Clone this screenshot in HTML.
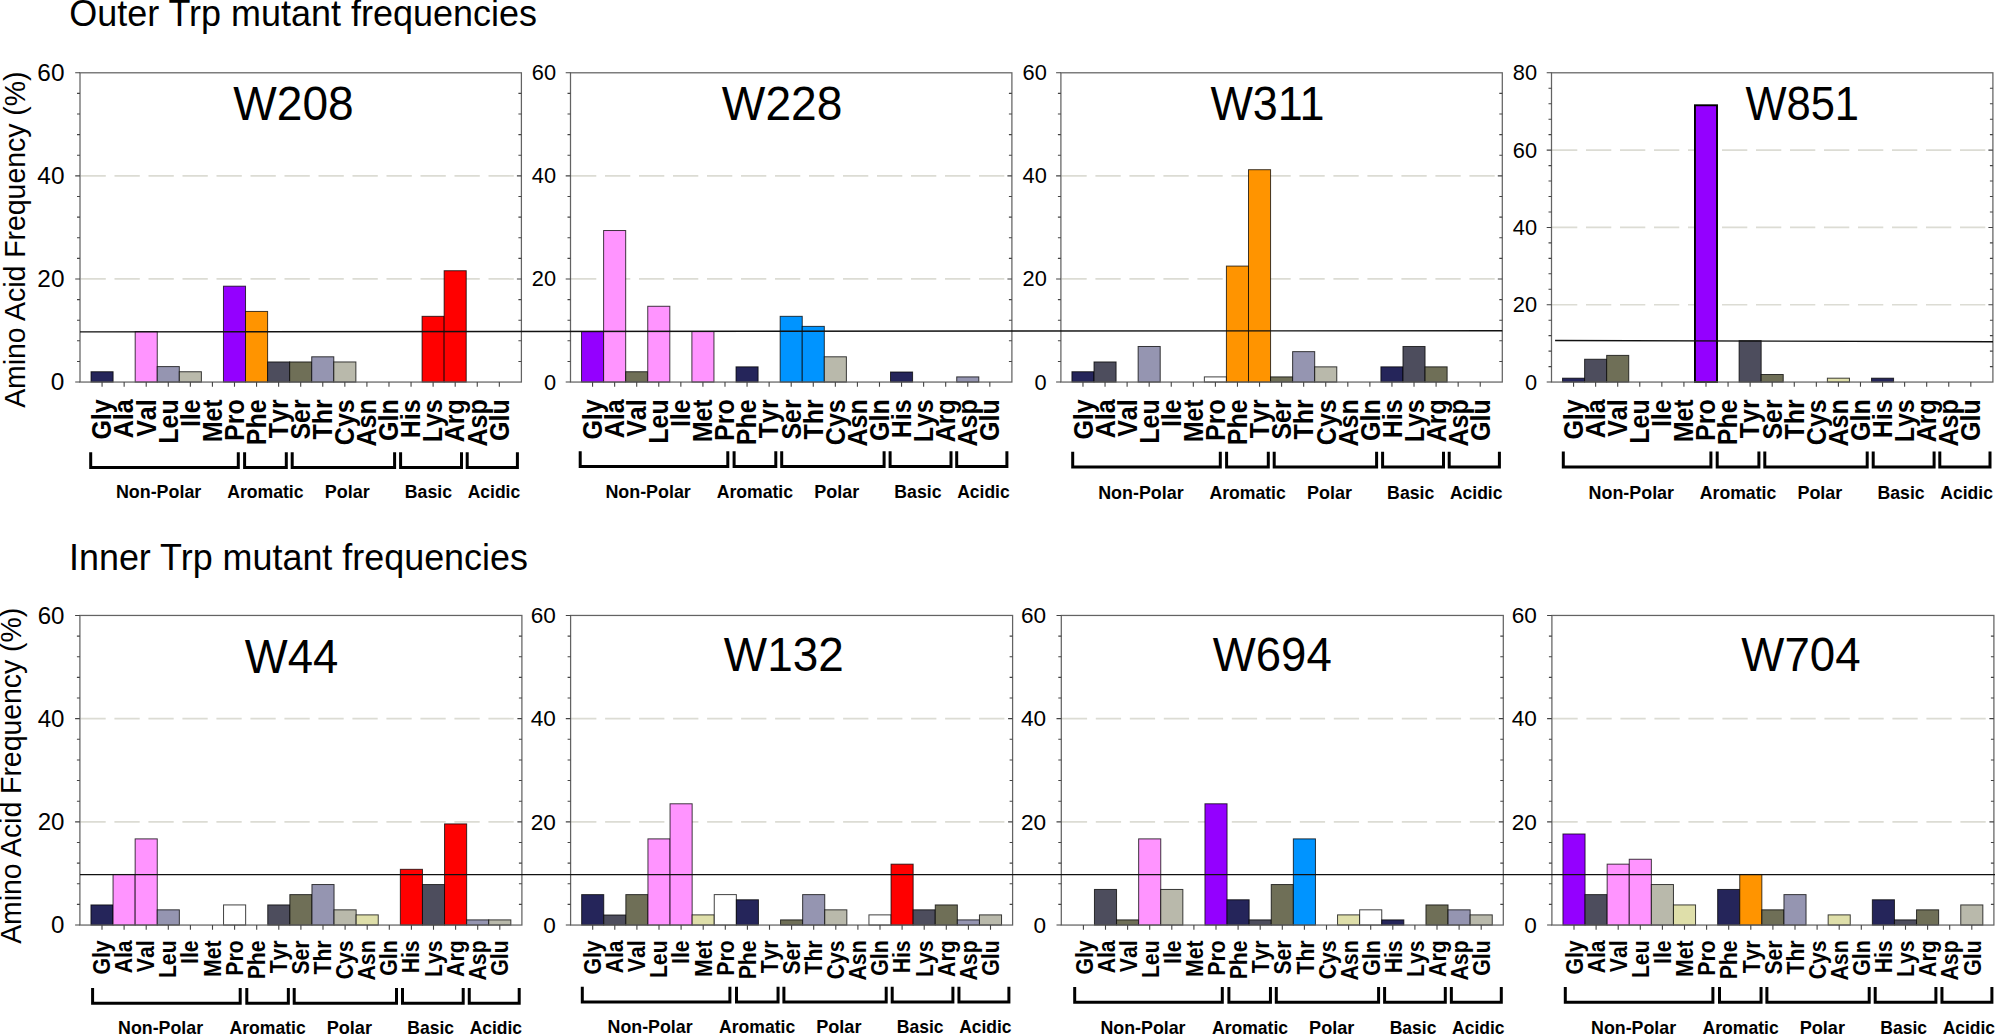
<!DOCTYPE html>
<html lang="en"><head><meta charset="utf-8"><title>Trp mutant frequencies</title>
<style>html,body{margin:0;padding:0;background:#fff}svg{display:block}text{font-family:"Liberation Sans",Arial,Helvetica,sans-serif;fill:#000}</style></head><body>
<svg width="1995" height="1035" viewBox="0 0 1995 1035">
<rect width="1995" height="1035" fill="#fff"/>
<text transform="translate(69.14,26.07) scale(1,1.015)" font-size="35.98">Outer Trp mutant frequencies</text>
<text transform="translate(68.98,570.3) scale(1,1.053)" font-size="35.91">Inner Trp mutant frequencies</text>
<text transform="translate(25,407.87) rotate(-90) scale(1,1.044)" font-size="28.43">Amino Acid Frequency (%)</text>
<text transform="translate(21,943.82) rotate(-90) scale(1,1.034)" font-size="28.41">Amino Acid Frequency (%)</text>
<line x1="80.5" y1="278.97" x2="520.9" y2="278.97" stroke="#dcdcd4" stroke-width="1.7" stroke-dasharray="25.3 8.7"/>
<line x1="80.5" y1="175.88" x2="520.9" y2="175.88" stroke="#dcdcd4" stroke-width="1.7" stroke-dasharray="25.3 8.7"/>
<rect x="91.03" y="371.74" width="22.07" height="10.31" fill="#25255a" stroke="#000" stroke-opacity="0.75" stroke-width="1.0"/>
<rect x="135.18" y="331.54" width="22.07" height="50.51" fill="#ff94ff" stroke="#000" stroke-opacity="0.75" stroke-width="1.0"/>
<rect x="157.25" y="366.59" width="22.07" height="15.46" fill="#9595b1" stroke="#000" stroke-opacity="0.75" stroke-width="1.0"/>
<rect x="179.31" y="371.74" width="22.07" height="10.31" fill="#b9b9ab" stroke="#000" stroke-opacity="0.75" stroke-width="1.0"/>
<rect x="223.46" y="286.18" width="22.07" height="95.87" fill="#9400ff" stroke="#000" stroke-opacity="0.75" stroke-width="1.0"/>
<rect x="245.53" y="311.44" width="22.07" height="70.61" fill="#ff9400" stroke="#000" stroke-opacity="0.75" stroke-width="1.0"/>
<rect x="267.59" y="361.95" width="22.07" height="20.1" fill="#4d4d5d" stroke="#000" stroke-opacity="0.75" stroke-width="1.0"/>
<rect x="289.66" y="361.95" width="22.07" height="20.1" fill="#6f6f57" stroke="#000" stroke-opacity="0.75" stroke-width="1.0"/>
<rect x="311.73" y="356.79" width="22.07" height="25.26" fill="#9595b1" stroke="#000" stroke-opacity="0.75" stroke-width="1.0"/>
<rect x="333.81" y="361.95" width="22.07" height="20.1" fill="#b9b9ab" stroke="#000" stroke-opacity="0.75" stroke-width="1.0"/>
<rect x="422.08" y="316.33" width="22.07" height="65.72" fill="#ff0000" stroke="#000" stroke-opacity="0.75" stroke-width="1.0"/>
<rect x="444.15" y="270.72" width="22.07" height="111.33" fill="#ff0000" stroke="#000" stroke-opacity="0.75" stroke-width="1.0"/>
<rect x="80" y="72.8" width="441.4" height="309.25" fill="none" stroke="#636363" stroke-width="1.25"/>
<path d="M75.2 382.05H80M77 361.43H80M518.4 361.43H521.4M77 340.82H80M518.4 340.82H521.4M77 320.2H80M518.4 320.2H521.4M77 299.58H80M518.4 299.58H521.4M75.2 278.97H80M516.9 278.97H521.4M77 258.35H80M518.4 258.35H521.4M77 237.73H80M518.4 237.73H521.4M77 217.12H80M518.4 217.12H521.4M77 196.5H80M518.4 196.5H521.4M75.2 175.88H80M516.9 175.88H521.4M77 155.27H80M518.4 155.27H521.4M77 134.65H80M518.4 134.65H521.4M77 114.03H80M518.4 114.03H521.4M77 93.42H80M518.4 93.42H521.4M75.2 72.8H80M102.07 382.05V386.85M124.14 382.05V386.85M146.21 382.05V386.85M168.28 382.05V386.85M190.35 382.05V386.85M212.42 382.05V386.85M234.49 382.05V386.85M256.56 382.05V386.85M278.63 382.05V386.85M300.7 382.05V386.85M322.77 382.05V386.85M344.84 382.05V386.85M366.91 382.05V386.85M388.98 382.05V386.85M411.05 382.05V386.85M433.12 382.05V386.85M455.19 382.05V386.85M477.26 382.05V386.85M499.33 382.05V386.85" stroke="#444" stroke-width="1.1" fill="none"/>
<g font-size="24.4" text-anchor="end">
<text x="64.44" y="390.44">0</text>
<text x="64.47" y="287.36">20</text>
<text x="64.47" y="184.28">40</text>
<text x="64.47" y="81.19">60</text>
</g>
<text transform="translate(233.27,119.6) scale(1,1.054)" font-size="46.09">W208</text>
<g font-weight="bold" font-size="25" text-anchor="end" style="font-kerning:none">
<text transform="translate(111.37,399.3) rotate(-90) scale(1,1.082)">Gly</text>
<text transform="translate(133.44,399.3) rotate(-90) scale(1,1.082)">Ala</text>
<text transform="translate(155.51,399.3) rotate(-90) scale(1,1.082)">Val</text>
<text transform="translate(177.58,399.3) rotate(-90) scale(1,1.082)">Leu</text>
<text transform="translate(199.65,399.3) rotate(-90) scale(1,1.082)">Ile</text>
<text transform="translate(221.72,399.3) rotate(-90) scale(1,1.082)">Met</text>
<text transform="translate(243.79,399.3) rotate(-90) scale(1,1.082)">Pro</text>
<text transform="translate(265.86,399.3) rotate(-90) scale(1,1.082)">Phe</text>
<text transform="translate(287.93,399.3) rotate(-90) scale(1,1.082)">Tyr</text>
<text transform="translate(310,399.3) rotate(-90) scale(1,1.082)">Ser</text>
<text transform="translate(332.07,399.3) rotate(-90) scale(1,1.082)">Thr</text>
<text transform="translate(354.14,399.3) rotate(-90) scale(1,1.082)">Cys</text>
<text transform="translate(376.21,399.3) rotate(-90) scale(1,1.082)">Asn</text>
<text transform="translate(398.28,399.3) rotate(-90) scale(1,1.082)">Gln</text>
<text transform="translate(420.35,399.3) rotate(-90) scale(1,1.082)">His</text>
<text transform="translate(442.42,399.3) rotate(-90) scale(1,1.082)">Lys</text>
<text transform="translate(464.49,399.3) rotate(-90) scale(1,1.082)">Arg</text>
<text transform="translate(486.56,399.3) rotate(-90) scale(1,1.082)">Asp</text>
<text transform="translate(508.63,399.3) rotate(-90) scale(1,1.082)">Glu</text>
</g>
<path d="M90.7 452.2V467.5H238.3V452.2M244.6 452.2V467.5H286.3V452.2M292.2 452.2V467.5H394.6V452.2M400.6 452.2V467.5H461.5V452.2M467.2 452.2V467.5H517.4V452.2" stroke="#000" stroke-width="3.0" fill="none" stroke-linejoin="miter"/>
<g font-weight="bold">
<text transform="translate(115.89,498.1) scale(1,0.975)" font-size="17.9">Non-Polar</text>
<text transform="translate(227.16,498.1) scale(1,0.991)" font-size="17.62">Aromatic</text>
<text transform="translate(324.69,498.1) scale(1,0.971)" font-size="17.98">Polar</text>
<text transform="translate(404.81,498.1) scale(1,0.987)" font-size="17.69">Basic</text>
<text transform="translate(467.66,498.1) scale(1,0.997)" font-size="17.51">Acidic</text>
</g>
<line x1="571" y1="278.97" x2="1011.4" y2="278.97" stroke="#dcdcd4" stroke-width="1.7" stroke-dasharray="25.3 8.7"/>
<line x1="571" y1="175.88" x2="1011.4" y2="175.88" stroke="#dcdcd4" stroke-width="1.7" stroke-dasharray="25.3 8.7"/>
<rect x="581.54" y="331.54" width="22.07" height="50.51" fill="#9400ff" stroke="#000" stroke-opacity="0.75" stroke-width="1.0"/>
<rect x="603.61" y="230.52" width="22.07" height="151.53" fill="#ff94ff" stroke="#000" stroke-opacity="0.75" stroke-width="1.0"/>
<rect x="625.68" y="371.74" width="22.07" height="10.31" fill="#6f6f57" stroke="#000" stroke-opacity="0.75" stroke-width="1.0"/>
<rect x="647.75" y="306.28" width="22.07" height="75.77" fill="#ff94ff" stroke="#000" stroke-opacity="0.75" stroke-width="1.0"/>
<rect x="691.89" y="331.54" width="22.07" height="50.51" fill="#ff94ff" stroke="#000" stroke-opacity="0.75" stroke-width="1.0"/>
<rect x="736.02" y="366.85" width="22.07" height="15.2" fill="#25255a" stroke="#000" stroke-opacity="0.75" stroke-width="1.0"/>
<rect x="780.17" y="316.33" width="22.07" height="65.72" fill="#0094ff" stroke="#000" stroke-opacity="0.75" stroke-width="1.0"/>
<rect x="802.24" y="326.38" width="22.07" height="55.67" fill="#0094ff" stroke="#000" stroke-opacity="0.75" stroke-width="1.0"/>
<rect x="824.31" y="356.79" width="22.07" height="25.26" fill="#b9b9ab" stroke="#000" stroke-opacity="0.75" stroke-width="1.0"/>
<rect x="890.51" y="372" width="22.07" height="10.05" fill="#25255a" stroke="#000" stroke-opacity="0.75" stroke-width="1.0"/>
<rect x="956.73" y="376.9" width="22.07" height="5.15" fill="#9595b1" stroke="#000" stroke-opacity="0.75" stroke-width="1.0"/>
<rect x="570.5" y="72.8" width="441.4" height="309.25" fill="none" stroke="#636363" stroke-width="1.25"/>
<path d="M565.7 382.05H570.5M567.5 361.43H570.5M1008.9 361.43H1011.9M567.5 340.82H570.5M1008.9 340.82H1011.9M567.5 320.2H570.5M1008.9 320.2H1011.9M567.5 299.58H570.5M1008.9 299.58H1011.9M565.7 278.97H570.5M1007.4 278.97H1011.9M567.5 258.35H570.5M1008.9 258.35H1011.9M567.5 237.73H570.5M1008.9 237.73H1011.9M567.5 217.12H570.5M1008.9 217.12H1011.9M567.5 196.5H570.5M1008.9 196.5H1011.9M565.7 175.88H570.5M1007.4 175.88H1011.9M567.5 155.27H570.5M1008.9 155.27H1011.9M567.5 134.65H570.5M1008.9 134.65H1011.9M567.5 114.03H570.5M1008.9 114.03H1011.9M567.5 93.42H570.5M1008.9 93.42H1011.9M565.7 72.8H570.5M592.57 382.05V386.85M614.64 382.05V386.85M636.71 382.05V386.85M658.78 382.05V386.85M680.85 382.05V386.85M702.92 382.05V386.85M724.99 382.05V386.85M747.06 382.05V386.85M769.13 382.05V386.85M791.2 382.05V386.85M813.27 382.05V386.85M835.34 382.05V386.85M857.41 382.05V386.85M879.48 382.05V386.85M901.55 382.05V386.85M923.62 382.05V386.85M945.69 382.05V386.85M967.76 382.05V386.85M989.83 382.05V386.85" stroke="#444" stroke-width="1.1" fill="none"/>
<g font-size="21.8" text-anchor="end">
<text x="556.04" y="389.55">0</text>
<text x="556.07" y="286.47">20</text>
<text x="556.07" y="183.38">40</text>
<text x="556.07" y="80.3">60</text>
</g>
<text transform="translate(721.83,119.6) scale(1,1.051)" font-size="46.16">W228</text>
<g font-weight="bold" font-size="25" text-anchor="end" style="font-kerning:none">
<text transform="translate(601.87,399.3) rotate(-90) scale(1,1.082)">Gly</text>
<text transform="translate(623.94,399.3) rotate(-90) scale(1,1.082)">Ala</text>
<text transform="translate(646.01,399.3) rotate(-90) scale(1,1.082)">Val</text>
<text transform="translate(668.08,399.3) rotate(-90) scale(1,1.082)">Leu</text>
<text transform="translate(690.15,399.3) rotate(-90) scale(1,1.082)">Ile</text>
<text transform="translate(712.22,399.3) rotate(-90) scale(1,1.082)">Met</text>
<text transform="translate(734.29,399.3) rotate(-90) scale(1,1.082)">Pro</text>
<text transform="translate(756.36,399.3) rotate(-90) scale(1,1.082)">Phe</text>
<text transform="translate(778.43,399.3) rotate(-90) scale(1,1.082)">Tyr</text>
<text transform="translate(800.5,399.3) rotate(-90) scale(1,1.082)">Ser</text>
<text transform="translate(822.57,399.3) rotate(-90) scale(1,1.082)">Thr</text>
<text transform="translate(844.64,399.3) rotate(-90) scale(1,1.082)">Cys</text>
<text transform="translate(866.71,399.3) rotate(-90) scale(1,1.082)">Asn</text>
<text transform="translate(888.78,399.3) rotate(-90) scale(1,1.082)">Gln</text>
<text transform="translate(910.85,399.3) rotate(-90) scale(1,1.082)">His</text>
<text transform="translate(932.92,399.3) rotate(-90) scale(1,1.082)">Lys</text>
<text transform="translate(954.99,399.3) rotate(-90) scale(1,1.082)">Arg</text>
<text transform="translate(977.06,399.3) rotate(-90) scale(1,1.082)">Asp</text>
<text transform="translate(999.13,399.3) rotate(-90) scale(1,1.082)">Glu</text>
</g>
<path d="M580.2 451.3V466.6H727.8V451.3M734.1 451.3V466.6H775.8V451.3M781.7 451.3V466.6H884.1V451.3M890.1 451.3V466.6H951V451.3M956.7 451.3V466.6H1006.9V451.3" stroke="#000" stroke-width="3.0" fill="none" stroke-linejoin="miter"/>
<g font-weight="bold">
<text transform="translate(605.39,497.5) scale(1,0.975)" font-size="17.9">Non-Polar</text>
<text transform="translate(716.66,497.5) scale(1,0.991)" font-size="17.62">Aromatic</text>
<text transform="translate(814.19,497.5) scale(1,0.971)" font-size="17.98">Polar</text>
<text transform="translate(894.31,497.5) scale(1,0.987)" font-size="17.69">Basic</text>
<text transform="translate(957.16,497.5) scale(1,0.997)" font-size="17.51">Acidic</text>
</g>
<line x1="1061.4" y1="278.97" x2="1501.8" y2="278.97" stroke="#dcdcd4" stroke-width="1.7" stroke-dasharray="25.3 8.7"/>
<line x1="1061.4" y1="175.88" x2="1501.8" y2="175.88" stroke="#dcdcd4" stroke-width="1.7" stroke-dasharray="25.3 8.7"/>
<rect x="1071.93" y="371.74" width="22.07" height="10.31" fill="#25255a" stroke="#000" stroke-opacity="0.75" stroke-width="1.0"/>
<rect x="1094.01" y="361.95" width="22.07" height="20.1" fill="#4d4d5d" stroke="#000" stroke-opacity="0.75" stroke-width="1.0"/>
<rect x="1138.14" y="346.49" width="22.07" height="35.56" fill="#9595b1" stroke="#000" stroke-opacity="0.75" stroke-width="1.0"/>
<rect x="1204.36" y="376.9" width="22.07" height="5.15" fill="#ffffff" stroke="#000" stroke-opacity="0.75" stroke-width="1.0"/>
<rect x="1226.42" y="266.08" width="22.07" height="115.97" fill="#ff9400" stroke="#000" stroke-opacity="0.75" stroke-width="1.0"/>
<rect x="1248.5" y="169.7" width="22.07" height="212.35" fill="#ff9400" stroke="#000" stroke-opacity="0.75" stroke-width="1.0"/>
<rect x="1270.57" y="376.9" width="22.07" height="5.15" fill="#6f6f57" stroke="#000" stroke-opacity="0.75" stroke-width="1.0"/>
<rect x="1292.63" y="351.64" width="22.07" height="30.41" fill="#9595b1" stroke="#000" stroke-opacity="0.75" stroke-width="1.0"/>
<rect x="1314.71" y="366.85" width="22.07" height="15.2" fill="#b9b9ab" stroke="#000" stroke-opacity="0.75" stroke-width="1.0"/>
<rect x="1380.91" y="366.85" width="22.07" height="15.2" fill="#25255a" stroke="#000" stroke-opacity="0.75" stroke-width="1.0"/>
<rect x="1402.98" y="346.49" width="22.07" height="35.56" fill="#4d4d5d" stroke="#000" stroke-opacity="0.75" stroke-width="1.0"/>
<rect x="1425.06" y="366.85" width="22.07" height="15.2" fill="#6f6f57" stroke="#000" stroke-opacity="0.75" stroke-width="1.0"/>
<rect x="1060.9" y="72.8" width="441.4" height="309.25" fill="none" stroke="#636363" stroke-width="1.25"/>
<path d="M1056.1 382.05H1060.9M1057.9 361.43H1060.9M1499.3 361.43H1502.3M1057.9 340.82H1060.9M1499.3 340.82H1502.3M1057.9 320.2H1060.9M1499.3 320.2H1502.3M1057.9 299.58H1060.9M1499.3 299.58H1502.3M1056.1 278.97H1060.9M1497.8 278.97H1502.3M1057.9 258.35H1060.9M1499.3 258.35H1502.3M1057.9 237.73H1060.9M1499.3 237.73H1502.3M1057.9 217.12H1060.9M1499.3 217.12H1502.3M1057.9 196.5H1060.9M1499.3 196.5H1502.3M1056.1 175.88H1060.9M1497.8 175.88H1502.3M1057.9 155.27H1060.9M1499.3 155.27H1502.3M1057.9 134.65H1060.9M1499.3 134.65H1502.3M1057.9 114.03H1060.9M1499.3 114.03H1502.3M1057.9 93.42H1060.9M1499.3 93.42H1502.3M1056.1 72.8H1060.9M1082.97 382.05V386.85M1105.04 382.05V386.85M1127.11 382.05V386.85M1149.18 382.05V386.85M1171.25 382.05V386.85M1193.32 382.05V386.85M1215.39 382.05V386.85M1237.46 382.05V386.85M1259.53 382.05V386.85M1281.6 382.05V386.85M1303.67 382.05V386.85M1325.74 382.05V386.85M1347.81 382.05V386.85M1369.88 382.05V386.85M1391.95 382.05V386.85M1414.02 382.05V386.85M1436.09 382.05V386.85M1458.16 382.05V386.85M1480.23 382.05V386.85" stroke="#444" stroke-width="1.1" fill="none"/>
<g font-size="21.8" text-anchor="end">
<text x="1046.74" y="389.55">0</text>
<text x="1046.77" y="286.47">20</text>
<text x="1046.77" y="183.38">40</text>
<text x="1046.77" y="80.3">60</text>
</g>
<text transform="translate(1210.38,119.6) scale(1,1.079)" font-size="44.99">W311</text>
<g font-weight="bold" font-size="25" text-anchor="end" style="font-kerning:none">
<text transform="translate(1092.77,399.3) rotate(-90) scale(1,1.082)">Gly</text>
<text transform="translate(1114.84,399.3) rotate(-90) scale(1,1.082)">Ala</text>
<text transform="translate(1136.91,399.3) rotate(-90) scale(1,1.082)">Val</text>
<text transform="translate(1158.98,399.3) rotate(-90) scale(1,1.082)">Leu</text>
<text transform="translate(1181.05,399.3) rotate(-90) scale(1,1.082)">Ile</text>
<text transform="translate(1203.12,399.3) rotate(-90) scale(1,1.082)">Met</text>
<text transform="translate(1225.19,399.3) rotate(-90) scale(1,1.082)">Pro</text>
<text transform="translate(1247.26,399.3) rotate(-90) scale(1,1.082)">Phe</text>
<text transform="translate(1269.33,399.3) rotate(-90) scale(1,1.082)">Tyr</text>
<text transform="translate(1291.4,399.3) rotate(-90) scale(1,1.082)">Ser</text>
<text transform="translate(1313.47,399.3) rotate(-90) scale(1,1.082)">Thr</text>
<text transform="translate(1335.54,399.3) rotate(-90) scale(1,1.082)">Cys</text>
<text transform="translate(1357.61,399.3) rotate(-90) scale(1,1.082)">Asn</text>
<text transform="translate(1379.68,399.3) rotate(-90) scale(1,1.082)">Gln</text>
<text transform="translate(1401.75,399.3) rotate(-90) scale(1,1.082)">His</text>
<text transform="translate(1423.82,399.3) rotate(-90) scale(1,1.082)">Lys</text>
<text transform="translate(1445.89,399.3) rotate(-90) scale(1,1.082)">Arg</text>
<text transform="translate(1467.96,399.3) rotate(-90) scale(1,1.082)">Asp</text>
<text transform="translate(1490.03,399.3) rotate(-90) scale(1,1.082)">Glu</text>
</g>
<path d="M1072.7 451.7V467H1220.3V451.7M1226.6 451.7V467H1268.3V451.7M1274.2 451.7V467H1376.6V451.7M1382.6 451.7V467H1443.5V451.7M1449.2 451.7V467H1499.4V451.7" stroke="#000" stroke-width="3.0" fill="none" stroke-linejoin="miter"/>
<g font-weight="bold">
<text transform="translate(1098.19,498.6) scale(1,0.975)" font-size="17.9">Non-Polar</text>
<text transform="translate(1209.46,498.6) scale(1,0.991)" font-size="17.62">Aromatic</text>
<text transform="translate(1306.99,498.6) scale(1,0.971)" font-size="17.98">Polar</text>
<text transform="translate(1387.11,498.6) scale(1,0.987)" font-size="17.69">Basic</text>
<text transform="translate(1449.96,498.6) scale(1,0.997)" font-size="17.51">Acidic</text>
</g>
<line x1="1552" y1="304.74" x2="1992.4" y2="304.74" stroke="#dcdcd4" stroke-width="1.7" stroke-dasharray="25.3 8.7"/>
<line x1="1552" y1="227.43" x2="1992.4" y2="227.43" stroke="#dcdcd4" stroke-width="1.7" stroke-dasharray="25.3 8.7"/>
<line x1="1552" y1="150.11" x2="1992.4" y2="150.11" stroke="#dcdcd4" stroke-width="1.7" stroke-dasharray="25.3 8.7"/>
<rect x="1562.53" y="378.18" width="22.07" height="3.87" fill="#25255a" stroke="#000" stroke-opacity="0.75" stroke-width="1.0"/>
<rect x="1584.61" y="359.24" width="22.07" height="22.81" fill="#4d4d5d" stroke="#000" stroke-opacity="0.75" stroke-width="1.0"/>
<rect x="1606.67" y="355.38" width="22.07" height="26.67" fill="#6f6f57" stroke="#000" stroke-opacity="0.75" stroke-width="1.0"/>
<rect x="1694.95" y="105.27" width="22.07" height="276.78" fill="#9400ff" stroke="#000" stroke-opacity="1" stroke-width="1.9"/>
<rect x="1739.1" y="340.69" width="22.07" height="41.36" fill="#4d4d5d" stroke="#000" stroke-opacity="0.75" stroke-width="1.0"/>
<rect x="1761.16" y="374.51" width="22.07" height="7.54" fill="#6f6f57" stroke="#000" stroke-opacity="0.75" stroke-width="1.0"/>
<rect x="1827.38" y="378.18" width="22.07" height="3.87" fill="#dfdfaa" stroke="#000" stroke-opacity="0.75" stroke-width="1.0"/>
<rect x="1871.51" y="378.18" width="22.07" height="3.87" fill="#25255a" stroke="#000" stroke-opacity="0.75" stroke-width="1.0"/>
<rect x="1551.5" y="72.8" width="441.4" height="309.25" fill="none" stroke="#636363" stroke-width="1.25"/>
<path d="M1546.7 382.05H1551.5M1548.5 366.59H1551.5M1989.9 366.59H1992.9M1548.5 351.12H1551.5M1989.9 351.12H1992.9M1548.5 335.66H1551.5M1989.9 335.66H1992.9M1548.5 320.2H1551.5M1989.9 320.2H1992.9M1546.7 304.74H1551.5M1988.4 304.74H1992.9M1548.5 289.27H1551.5M1989.9 289.27H1992.9M1548.5 273.81H1551.5M1989.9 273.81H1992.9M1548.5 258.35H1551.5M1989.9 258.35H1992.9M1548.5 242.89H1551.5M1989.9 242.89H1992.9M1546.7 227.43H1551.5M1988.4 227.43H1992.9M1548.5 211.96H1551.5M1989.9 211.96H1992.9M1548.5 196.5H1551.5M1989.9 196.5H1992.9M1548.5 181.04H1551.5M1989.9 181.04H1992.9M1548.5 165.58H1551.5M1989.9 165.58H1992.9M1546.7 150.11H1551.5M1988.4 150.11H1992.9M1548.5 134.65H1551.5M1989.9 134.65H1992.9M1548.5 119.19H1551.5M1989.9 119.19H1992.9M1548.5 103.73H1551.5M1989.9 103.73H1992.9M1548.5 88.26H1551.5M1989.9 88.26H1992.9M1546.7 72.8H1551.5M1573.57 382.05V386.85M1595.64 382.05V386.85M1617.71 382.05V386.85M1639.78 382.05V386.85M1661.85 382.05V386.85M1683.92 382.05V386.85M1705.99 382.05V386.85M1728.06 382.05V386.85M1750.13 382.05V386.85M1772.2 382.05V386.85M1794.27 382.05V386.85M1816.34 382.05V386.85M1838.41 382.05V386.85M1860.48 382.05V386.85M1882.55 382.05V386.85M1904.62 382.05V386.85M1926.69 382.05V386.85M1948.76 382.05V386.85M1970.83 382.05V386.85" stroke="#444" stroke-width="1.1" fill="none"/>
<g font-size="21.8" text-anchor="end">
<text x="1537.04" y="389.55">0</text>
<text x="1537.07" y="312.24">20</text>
<text x="1537.07" y="234.92">40</text>
<text x="1537.07" y="157.61">60</text>
<text x="1537.07" y="80.3">80</text>
</g>
<text transform="translate(1745.38,119.6) scale(1,1.115)" font-size="43.52">W851</text>
<g font-weight="bold" font-size="25" text-anchor="end" style="font-kerning:none">
<text transform="translate(1582.87,399.3) rotate(-90) scale(1,1.082)">Gly</text>
<text transform="translate(1604.94,399.3) rotate(-90) scale(1,1.082)">Ala</text>
<text transform="translate(1627.01,399.3) rotate(-90) scale(1,1.082)">Val</text>
<text transform="translate(1649.08,399.3) rotate(-90) scale(1,1.082)">Leu</text>
<text transform="translate(1671.15,399.3) rotate(-90) scale(1,1.082)">Ile</text>
<text transform="translate(1693.22,399.3) rotate(-90) scale(1,1.082)">Met</text>
<text transform="translate(1715.29,399.3) rotate(-90) scale(1,1.082)">Pro</text>
<text transform="translate(1737.36,399.3) rotate(-90) scale(1,1.082)">Phe</text>
<text transform="translate(1759.43,399.3) rotate(-90) scale(1,1.082)">Tyr</text>
<text transform="translate(1781.5,399.3) rotate(-90) scale(1,1.082)">Ser</text>
<text transform="translate(1803.57,399.3) rotate(-90) scale(1,1.082)">Thr</text>
<text transform="translate(1825.64,399.3) rotate(-90) scale(1,1.082)">Cys</text>
<text transform="translate(1847.71,399.3) rotate(-90) scale(1,1.082)">Asn</text>
<text transform="translate(1869.78,399.3) rotate(-90) scale(1,1.082)">Gln</text>
<text transform="translate(1891.85,399.3) rotate(-90) scale(1,1.082)">His</text>
<text transform="translate(1913.92,399.3) rotate(-90) scale(1,1.082)">Lys</text>
<text transform="translate(1935.99,399.3) rotate(-90) scale(1,1.082)">Arg</text>
<text transform="translate(1958.06,399.3) rotate(-90) scale(1,1.082)">Asp</text>
<text transform="translate(1980.13,399.3) rotate(-90) scale(1,1.082)">Glu</text>
</g>
<path d="M1563.3 451.6V466.9H1710.9V451.6M1717.2 451.6V466.9H1758.9V451.6M1764.8 451.6V466.9H1867.2V451.6M1873.2 451.6V466.9H1934.1V451.6M1939.8 451.6V466.9H1990V451.6" stroke="#000" stroke-width="3.0" fill="none" stroke-linejoin="miter"/>
<g font-weight="bold">
<text transform="translate(1588.59,498.7) scale(1,0.975)" font-size="17.9">Non-Polar</text>
<text transform="translate(1699.86,498.7) scale(1,0.991)" font-size="17.62">Aromatic</text>
<text transform="translate(1797.39,498.7) scale(1,0.971)" font-size="17.98">Polar</text>
<text transform="translate(1877.51,498.7) scale(1,0.987)" font-size="17.69">Basic</text>
<text transform="translate(1940.36,498.7) scale(1,0.997)" font-size="17.51">Acidic</text>
</g>
<line x1="80.4" y1="821.85" x2="521.4" y2="821.85" stroke="#dcdcd4" stroke-width="1.7" stroke-dasharray="25.3 8.7"/>
<line x1="80.4" y1="718.65" x2="521.4" y2="718.65" stroke="#dcdcd4" stroke-width="1.7" stroke-dasharray="25.3 8.7"/>
<rect x="90.95" y="904.93" width="22.1" height="20.12" fill="#25255a" stroke="#000" stroke-opacity="0.75" stroke-width="1.0"/>
<rect x="113.05" y="874.48" width="22.1" height="50.57" fill="#ff94ff" stroke="#000" stroke-opacity="0.75" stroke-width="1.0"/>
<rect x="135.15" y="838.88" width="22.1" height="86.17" fill="#ff94ff" stroke="#000" stroke-opacity="0.75" stroke-width="1.0"/>
<rect x="157.25" y="909.83" width="22.1" height="15.22" fill="#9595b1" stroke="#000" stroke-opacity="0.75" stroke-width="1.0"/>
<rect x="223.55" y="904.93" width="22.1" height="20.12" fill="#ffffff" stroke="#000" stroke-opacity="0.75" stroke-width="1.0"/>
<rect x="267.75" y="904.93" width="22.1" height="20.12" fill="#4d4d5d" stroke="#000" stroke-opacity="0.75" stroke-width="1.0"/>
<rect x="289.85" y="894.61" width="22.1" height="30.44" fill="#6f6f57" stroke="#000" stroke-opacity="0.75" stroke-width="1.0"/>
<rect x="311.95" y="884.54" width="22.1" height="40.51" fill="#9595b1" stroke="#000" stroke-opacity="0.75" stroke-width="1.0"/>
<rect x="334.05" y="909.83" width="22.1" height="15.22" fill="#b9b9ab" stroke="#000" stroke-opacity="0.75" stroke-width="1.0"/>
<rect x="356.15" y="914.88" width="22.1" height="10.17" fill="#dfdfaa" stroke="#000" stroke-opacity="0.75" stroke-width="1.0"/>
<rect x="400.35" y="869.32" width="22.1" height="55.73" fill="#ff0000" stroke="#000" stroke-opacity="0.75" stroke-width="1.0"/>
<rect x="422.45" y="884.54" width="22.1" height="40.51" fill="#4d4d5d" stroke="#000" stroke-opacity="0.75" stroke-width="1.0"/>
<rect x="444.55" y="823.91" width="22.1" height="101.14" fill="#ff0000" stroke="#000" stroke-opacity="0.75" stroke-width="1.0"/>
<rect x="466.65" y="919.89" width="22.1" height="5.16" fill="#9595b1" stroke="#000" stroke-opacity="0.75" stroke-width="1.0"/>
<rect x="488.75" y="919.89" width="22.1" height="5.16" fill="#b9b9ab" stroke="#000" stroke-opacity="0.75" stroke-width="1.0"/>
<rect x="79.9" y="615.45" width="442" height="309.6" fill="none" stroke="#636363" stroke-width="1.25"/>
<path d="M75.1 925.05H79.9M76.9 904.41H79.9M518.9 904.41H521.9M76.9 883.77H79.9M518.9 883.77H521.9M76.9 863.13H79.9M518.9 863.13H521.9M76.9 842.49H79.9M518.9 842.49H521.9M75.1 821.85H79.9M517.4 821.85H521.9M76.9 801.21H79.9M518.9 801.21H521.9M76.9 780.57H79.9M518.9 780.57H521.9M76.9 759.93H79.9M518.9 759.93H521.9M76.9 739.29H79.9M518.9 739.29H521.9M75.1 718.65H79.9M517.4 718.65H521.9M76.9 698.01H79.9M518.9 698.01H521.9M76.9 677.37H79.9M518.9 677.37H521.9M76.9 656.73H79.9M518.9 656.73H521.9M76.9 636.09H79.9M518.9 636.09H521.9M75.1 615.45H79.9M102 925.05V929.85M124.1 925.05V929.85M146.2 925.05V929.85M168.3 925.05V929.85M190.4 925.05V929.85M212.5 925.05V929.85M234.6 925.05V929.85M256.7 925.05V929.85M278.8 925.05V929.85M300.9 925.05V929.85M323 925.05V929.85M345.1 925.05V929.85M367.2 925.05V929.85M389.3 925.05V929.85M411.4 925.05V929.85M433.5 925.05V929.85M455.6 925.05V929.85M477.7 925.05V929.85M499.8 925.05V929.85" stroke="#444" stroke-width="1.1" fill="none"/>
<g font-size="24.1" text-anchor="end">
<text x="64.43" y="933.34">0</text>
<text x="64.46" y="830.14">20</text>
<text x="64.46" y="726.94">40</text>
<text x="64.46" y="623.74">60</text>
</g>
<text transform="translate(244.87,672.66) scale(1,1.057)" font-size="45.49">W44</text>
<g font-weight="bold" font-size="21.2" text-anchor="end" style="font-kerning:none">
<text transform="translate(110,940.4) rotate(-90) scale(1,1.098)">Gly</text>
<text transform="translate(132.1,940.4) rotate(-90) scale(1,1.098)">Ala</text>
<text transform="translate(154.2,940.4) rotate(-90) scale(1,1.098)">Val</text>
<text transform="translate(176.3,940.4) rotate(-90) scale(1,1.098)">Leu</text>
<text transform="translate(198.4,940.4) rotate(-90) scale(1,1.098)">Ile</text>
<text transform="translate(220.5,940.4) rotate(-90) scale(1,1.098)">Met</text>
<text transform="translate(242.6,940.4) rotate(-90) scale(1,1.098)">Pro</text>
<text transform="translate(264.7,940.4) rotate(-90) scale(1,1.098)">Phe</text>
<text transform="translate(286.8,940.4) rotate(-90) scale(1,1.098)">Tyr</text>
<text transform="translate(308.9,940.4) rotate(-90) scale(1,1.098)">Ser</text>
<text transform="translate(331,940.4) rotate(-90) scale(1,1.098)">Thr</text>
<text transform="translate(353.1,940.4) rotate(-90) scale(1,1.098)">Cys</text>
<text transform="translate(375.2,940.4) rotate(-90) scale(1,1.098)">Asn</text>
<text transform="translate(397.3,940.4) rotate(-90) scale(1,1.098)">Gln</text>
<text transform="translate(419.4,940.4) rotate(-90) scale(1,1.098)">His</text>
<text transform="translate(441.5,940.4) rotate(-90) scale(1,1.098)">Lys</text>
<text transform="translate(463.6,940.4) rotate(-90) scale(1,1.098)">Arg</text>
<text transform="translate(485.7,940.4) rotate(-90) scale(1,1.098)">Asp</text>
<text transform="translate(507.8,940.4) rotate(-90) scale(1,1.098)">Glu</text>
</g>
<path d="M92.6 988V1003.25H240.2V988M246.8 988V1003.25H288.35V988M294.2 988V1003.25H396.5V988M402.5 988V1003.25H463.2V988M469.25 988V1003.25H519.2V988" stroke="#000" stroke-width="3.0" fill="none" stroke-linejoin="miter"/>
<g font-weight="bold">
<text transform="translate(118.1,1034.3) scale(1,0.981)" font-size="17.8">Non-Polar</text>
<text transform="translate(229.56,1034.3) scale(1,0.993)" font-size="17.57">Aromatic</text>
<text transform="translate(326.68,1034.3) scale(1,0.962)" font-size="18.14">Polar</text>
<text transform="translate(407.32,1034.3) scale(1,0.996)" font-size="17.53">Basic</text>
<text transform="translate(469.66,1034.3) scale(1,0.999)" font-size="17.47">Acidic</text>
</g>
<line x1="571.1" y1="821.85" x2="1012.1" y2="821.85" stroke="#dcdcd4" stroke-width="1.7" stroke-dasharray="25.3 8.7"/>
<line x1="571.1" y1="718.65" x2="1012.1" y2="718.65" stroke="#dcdcd4" stroke-width="1.7" stroke-dasharray="25.3 8.7"/>
<rect x="581.65" y="894.61" width="22.1" height="30.44" fill="#25255a" stroke="#000" stroke-opacity="0.75" stroke-width="1.0"/>
<rect x="603.75" y="914.99" width="22.1" height="10.06" fill="#4d4d5d" stroke="#000" stroke-opacity="0.75" stroke-width="1.0"/>
<rect x="625.85" y="894.61" width="22.1" height="30.44" fill="#6f6f57" stroke="#000" stroke-opacity="0.75" stroke-width="1.0"/>
<rect x="647.95" y="838.88" width="22.1" height="86.17" fill="#ff94ff" stroke="#000" stroke-opacity="0.75" stroke-width="1.0"/>
<rect x="670.05" y="803.79" width="22.1" height="121.26" fill="#ff94ff" stroke="#000" stroke-opacity="0.75" stroke-width="1.0"/>
<rect x="692.15" y="914.88" width="22.1" height="10.17" fill="#dfdfaa" stroke="#000" stroke-opacity="0.75" stroke-width="1.0"/>
<rect x="714.25" y="894.61" width="22.1" height="30.44" fill="#ffffff" stroke="#000" stroke-opacity="0.75" stroke-width="1.0"/>
<rect x="736.35" y="899.77" width="22.1" height="25.28" fill="#25255a" stroke="#000" stroke-opacity="0.75" stroke-width="1.0"/>
<rect x="780.55" y="919.89" width="22.1" height="5.16" fill="#6f6f57" stroke="#000" stroke-opacity="0.75" stroke-width="1.0"/>
<rect x="802.65" y="894.61" width="22.1" height="30.44" fill="#9595b1" stroke="#000" stroke-opacity="0.75" stroke-width="1.0"/>
<rect x="824.75" y="909.83" width="22.1" height="15.22" fill="#b9b9ab" stroke="#000" stroke-opacity="0.75" stroke-width="1.0"/>
<rect x="868.95" y="914.88" width="22.1" height="10.17" fill="#ffffff" stroke="#000" stroke-opacity="0.75" stroke-width="1.0"/>
<rect x="891.05" y="864.16" width="22.1" height="60.89" fill="#ff0000" stroke="#000" stroke-opacity="0.75" stroke-width="1.0"/>
<rect x="913.15" y="909.83" width="22.1" height="15.22" fill="#4d4d5d" stroke="#000" stroke-opacity="0.75" stroke-width="1.0"/>
<rect x="935.25" y="904.93" width="22.1" height="20.12" fill="#6f6f57" stroke="#000" stroke-opacity="0.75" stroke-width="1.0"/>
<rect x="957.35" y="919.89" width="22.1" height="5.16" fill="#9595b1" stroke="#000" stroke-opacity="0.75" stroke-width="1.0"/>
<rect x="979.45" y="914.88" width="22.1" height="10.17" fill="#b9b9ab" stroke="#000" stroke-opacity="0.75" stroke-width="1.0"/>
<rect x="570.6" y="615.45" width="442" height="309.6" fill="none" stroke="#636363" stroke-width="1.25"/>
<path d="M565.8 925.05H570.6M567.6 904.41H570.6M1009.6 904.41H1012.6M567.6 883.77H570.6M1009.6 883.77H1012.6M567.6 863.13H570.6M1009.6 863.13H1012.6M567.6 842.49H570.6M1009.6 842.49H1012.6M565.8 821.85H570.6M1008.1 821.85H1012.6M567.6 801.21H570.6M1009.6 801.21H1012.6M567.6 780.57H570.6M1009.6 780.57H1012.6M567.6 759.93H570.6M1009.6 759.93H1012.6M567.6 739.29H570.6M1009.6 739.29H1012.6M565.8 718.65H570.6M1008.1 718.65H1012.6M567.6 698.01H570.6M1009.6 698.01H1012.6M567.6 677.37H570.6M1009.6 677.37H1012.6M567.6 656.73H570.6M1009.6 656.73H1012.6M567.6 636.09H570.6M1009.6 636.09H1012.6M565.8 615.45H570.6M592.7 925.05V929.85M614.8 925.05V929.85M636.9 925.05V929.85M659 925.05V929.85M681.1 925.05V929.85M703.2 925.05V929.85M725.3 925.05V929.85M747.4 925.05V929.85M769.5 925.05V929.85M791.6 925.05V929.85M813.7 925.05V929.85M835.8 925.05V929.85M857.9 925.05V929.85M880 925.05V929.85M902.1 925.05V929.85M924.2 925.05V929.85M946.3 925.05V929.85M968.4 925.05V929.85M990.5 925.05V929.85" stroke="#444" stroke-width="1.1" fill="none"/>
<g font-size="22.6" text-anchor="end">
<text x="555.77" y="932.82">0</text>
<text x="555.8" y="829.62">20</text>
<text x="555.8" y="726.42">40</text>
<text x="555.8" y="623.22">60</text>
</g>
<text transform="translate(723.83,671.35) scale(1,1.054)" font-size="45.91">W132</text>
<g font-weight="bold" font-size="21.2" text-anchor="end" style="font-kerning:none">
<text transform="translate(601,940.4) rotate(-90) scale(1,1.098)">Gly</text>
<text transform="translate(623.1,940.4) rotate(-90) scale(1,1.098)">Ala</text>
<text transform="translate(645.2,940.4) rotate(-90) scale(1,1.098)">Val</text>
<text transform="translate(667.3,940.4) rotate(-90) scale(1,1.098)">Leu</text>
<text transform="translate(689.4,940.4) rotate(-90) scale(1,1.098)">Ile</text>
<text transform="translate(711.5,940.4) rotate(-90) scale(1,1.098)">Met</text>
<text transform="translate(733.6,940.4) rotate(-90) scale(1,1.098)">Pro</text>
<text transform="translate(755.7,940.4) rotate(-90) scale(1,1.098)">Phe</text>
<text transform="translate(777.8,940.4) rotate(-90) scale(1,1.098)">Tyr</text>
<text transform="translate(799.9,940.4) rotate(-90) scale(1,1.098)">Ser</text>
<text transform="translate(822,940.4) rotate(-90) scale(1,1.098)">Thr</text>
<text transform="translate(844.1,940.4) rotate(-90) scale(1,1.098)">Cys</text>
<text transform="translate(866.2,940.4) rotate(-90) scale(1,1.098)">Asn</text>
<text transform="translate(888.3,940.4) rotate(-90) scale(1,1.098)">Gln</text>
<text transform="translate(910.4,940.4) rotate(-90) scale(1,1.098)">His</text>
<text transform="translate(932.5,940.4) rotate(-90) scale(1,1.098)">Lys</text>
<text transform="translate(954.6,940.4) rotate(-90) scale(1,1.098)">Arg</text>
<text transform="translate(976.7,940.4) rotate(-90) scale(1,1.098)">Asp</text>
<text transform="translate(998.8,940.4) rotate(-90) scale(1,1.098)">Glu</text>
</g>
<path d="M582.3 986.7V1001.95H729.9V986.7M736.5 986.7V1001.95H778.05V986.7M783.9 986.7V1001.95H886.2V986.7M892.2 986.7V1001.95H952.9V986.7M958.95 986.7V1001.95H1008.9V986.7" stroke="#000" stroke-width="3.0" fill="none" stroke-linejoin="miter"/>
<g font-weight="bold">
<text transform="translate(607.6,1033.1) scale(1,0.981)" font-size="17.8">Non-Polar</text>
<text transform="translate(719.06,1033.1) scale(1,0.993)" font-size="17.57">Aromatic</text>
<text transform="translate(816.18,1033.1) scale(1,0.962)" font-size="18.14">Polar</text>
<text transform="translate(896.82,1033.1) scale(1,0.996)" font-size="17.53">Basic</text>
<text transform="translate(959.16,1033.1) scale(1,0.999)" font-size="17.47">Acidic</text>
</g>
<line x1="1061.8" y1="821.85" x2="1502.8" y2="821.85" stroke="#dcdcd4" stroke-width="1.7" stroke-dasharray="25.3 8.7"/>
<line x1="1061.8" y1="718.65" x2="1502.8" y2="718.65" stroke="#dcdcd4" stroke-width="1.7" stroke-dasharray="25.3 8.7"/>
<rect x="1094.45" y="889.45" width="22.1" height="35.6" fill="#4d4d5d" stroke="#000" stroke-opacity="0.75" stroke-width="1.0"/>
<rect x="1116.55" y="919.89" width="22.1" height="5.16" fill="#6f6f57" stroke="#000" stroke-opacity="0.75" stroke-width="1.0"/>
<rect x="1138.65" y="838.88" width="22.1" height="86.17" fill="#ff94ff" stroke="#000" stroke-opacity="0.75" stroke-width="1.0"/>
<rect x="1160.75" y="889.45" width="22.1" height="35.6" fill="#b9b9ab" stroke="#000" stroke-opacity="0.75" stroke-width="1.0"/>
<rect x="1204.95" y="803.79" width="22.1" height="121.26" fill="#9400ff" stroke="#000" stroke-opacity="0.75" stroke-width="1.0"/>
<rect x="1227.05" y="899.77" width="22.1" height="25.28" fill="#25255a" stroke="#000" stroke-opacity="0.75" stroke-width="1.0"/>
<rect x="1249.15" y="919.89" width="22.1" height="5.16" fill="#4d4d5d" stroke="#000" stroke-opacity="0.75" stroke-width="1.0"/>
<rect x="1271.25" y="884.54" width="22.1" height="40.51" fill="#6f6f57" stroke="#000" stroke-opacity="0.75" stroke-width="1.0"/>
<rect x="1293.35" y="838.88" width="22.1" height="86.17" fill="#0094ff" stroke="#000" stroke-opacity="0.75" stroke-width="1.0"/>
<rect x="1337.55" y="914.88" width="22.1" height="10.17" fill="#dfdfaa" stroke="#000" stroke-opacity="0.75" stroke-width="1.0"/>
<rect x="1359.65" y="909.83" width="22.1" height="15.22" fill="#ffffff" stroke="#000" stroke-opacity="0.75" stroke-width="1.0"/>
<rect x="1381.75" y="919.89" width="22.1" height="5.16" fill="#25255a" stroke="#000" stroke-opacity="0.75" stroke-width="1.0"/>
<rect x="1425.95" y="904.93" width="22.1" height="20.12" fill="#6f6f57" stroke="#000" stroke-opacity="0.75" stroke-width="1.0"/>
<rect x="1448.05" y="909.83" width="22.1" height="15.22" fill="#9595b1" stroke="#000" stroke-opacity="0.75" stroke-width="1.0"/>
<rect x="1470.15" y="914.88" width="22.1" height="10.17" fill="#b9b9ab" stroke="#000" stroke-opacity="0.75" stroke-width="1.0"/>
<rect x="1061.3" y="615.45" width="442" height="309.6" fill="none" stroke="#636363" stroke-width="1.25"/>
<path d="M1056.5 925.05H1061.3M1058.3 904.41H1061.3M1500.3 904.41H1503.3M1058.3 883.77H1061.3M1500.3 883.77H1503.3M1058.3 863.13H1061.3M1500.3 863.13H1503.3M1058.3 842.49H1061.3M1500.3 842.49H1503.3M1056.5 821.85H1061.3M1498.8 821.85H1503.3M1058.3 801.21H1061.3M1500.3 801.21H1503.3M1058.3 780.57H1061.3M1500.3 780.57H1503.3M1058.3 759.93H1061.3M1500.3 759.93H1503.3M1058.3 739.29H1061.3M1500.3 739.29H1503.3M1056.5 718.65H1061.3M1498.8 718.65H1503.3M1058.3 698.01H1061.3M1500.3 698.01H1503.3M1058.3 677.37H1061.3M1500.3 677.37H1503.3M1058.3 656.73H1061.3M1500.3 656.73H1503.3M1058.3 636.09H1061.3M1500.3 636.09H1503.3M1056.5 615.45H1061.3M1083.4 925.05V929.85M1105.5 925.05V929.85M1127.6 925.05V929.85M1149.7 925.05V929.85M1171.8 925.05V929.85M1193.9 925.05V929.85M1216 925.05V929.85M1238.1 925.05V929.85M1260.2 925.05V929.85M1282.3 925.05V929.85M1304.4 925.05V929.85M1326.5 925.05V929.85M1348.6 925.05V929.85M1370.7 925.05V929.85M1392.8 925.05V929.85M1414.9 925.05V929.85M1437 925.05V929.85M1459.1 925.05V929.85M1481.2 925.05V929.85" stroke="#444" stroke-width="1.1" fill="none"/>
<g font-size="22.6" text-anchor="end">
<text x="1046.17" y="932.82">0</text>
<text x="1046.2" y="829.62">20</text>
<text x="1046.2" y="726.42">40</text>
<text x="1046.2" y="623.22">60</text>
</g>
<text transform="translate(1212.67,671.35) scale(1,1.051)" font-size="45.59">W694</text>
<g font-weight="bold" font-size="21.2" text-anchor="end" style="font-kerning:none">
<text transform="translate(1092.5,940.4) rotate(-90) scale(1,1.098)">Gly</text>
<text transform="translate(1114.6,940.4) rotate(-90) scale(1,1.098)">Ala</text>
<text transform="translate(1136.7,940.4) rotate(-90) scale(1,1.098)">Val</text>
<text transform="translate(1158.8,940.4) rotate(-90) scale(1,1.098)">Leu</text>
<text transform="translate(1180.9,940.4) rotate(-90) scale(1,1.098)">Ile</text>
<text transform="translate(1203,940.4) rotate(-90) scale(1,1.098)">Met</text>
<text transform="translate(1225.1,940.4) rotate(-90) scale(1,1.098)">Pro</text>
<text transform="translate(1247.2,940.4) rotate(-90) scale(1,1.098)">Phe</text>
<text transform="translate(1269.3,940.4) rotate(-90) scale(1,1.098)">Tyr</text>
<text transform="translate(1291.4,940.4) rotate(-90) scale(1,1.098)">Ser</text>
<text transform="translate(1313.5,940.4) rotate(-90) scale(1,1.098)">Thr</text>
<text transform="translate(1335.6,940.4) rotate(-90) scale(1,1.098)">Cys</text>
<text transform="translate(1357.7,940.4) rotate(-90) scale(1,1.098)">Asn</text>
<text transform="translate(1379.8,940.4) rotate(-90) scale(1,1.098)">Gln</text>
<text transform="translate(1401.9,940.4) rotate(-90) scale(1,1.098)">His</text>
<text transform="translate(1424,940.4) rotate(-90) scale(1,1.098)">Lys</text>
<text transform="translate(1446.1,940.4) rotate(-90) scale(1,1.098)">Arg</text>
<text transform="translate(1468.2,940.4) rotate(-90) scale(1,1.098)">Asp</text>
<text transform="translate(1490.3,940.4) rotate(-90) scale(1,1.098)">Glu</text>
</g>
<path d="M1074.7 987V1002.25H1222.3V987M1228.9 987V1002.25H1270.45V987M1276.3 987V1002.25H1378.6V987M1384.6 987V1002.25H1445.3V987M1451.35 987V1002.25H1501.3V987" stroke="#000" stroke-width="3.0" fill="none" stroke-linejoin="miter"/>
<g font-weight="bold">
<text transform="translate(1100.5,1034.3) scale(1,0.981)" font-size="17.8">Non-Polar</text>
<text transform="translate(1211.96,1034.3) scale(1,0.993)" font-size="17.57">Aromatic</text>
<text transform="translate(1309.08,1034.3) scale(1,0.962)" font-size="18.14">Polar</text>
<text transform="translate(1389.72,1034.3) scale(1,0.996)" font-size="17.53">Basic</text>
<text transform="translate(1452.06,1034.3) scale(1,0.999)" font-size="17.47">Acidic</text>
</g>
<line x1="1552.4" y1="821.85" x2="1993.4" y2="821.85" stroke="#dcdcd4" stroke-width="1.7" stroke-dasharray="25.3 8.7"/>
<line x1="1552.4" y1="718.65" x2="1993.4" y2="718.65" stroke="#dcdcd4" stroke-width="1.7" stroke-dasharray="25.3 8.7"/>
<rect x="1562.95" y="833.98" width="22.1" height="91.07" fill="#9400ff" stroke="#000" stroke-opacity="0.75" stroke-width="1.0"/>
<rect x="1585.05" y="894.61" width="22.1" height="30.44" fill="#4d4d5d" stroke="#000" stroke-opacity="0.75" stroke-width="1.0"/>
<rect x="1607.15" y="864.16" width="22.1" height="60.89" fill="#ff94ff" stroke="#000" stroke-opacity="0.75" stroke-width="1.0"/>
<rect x="1629.25" y="859.26" width="22.1" height="65.79" fill="#ff94ff" stroke="#000" stroke-opacity="0.75" stroke-width="1.0"/>
<rect x="1651.35" y="884.54" width="22.1" height="40.51" fill="#b9b9ab" stroke="#000" stroke-opacity="0.75" stroke-width="1.0"/>
<rect x="1673.45" y="904.93" width="22.1" height="20.12" fill="#dfdfaa" stroke="#000" stroke-opacity="0.75" stroke-width="1.0"/>
<rect x="1717.65" y="889.45" width="22.1" height="35.6" fill="#25255a" stroke="#000" stroke-opacity="0.75" stroke-width="1.0"/>
<rect x="1739.75" y="874.48" width="22.1" height="50.57" fill="#ff9400" stroke="#000" stroke-opacity="0.75" stroke-width="1.0"/>
<rect x="1761.85" y="909.83" width="22.1" height="15.22" fill="#6f6f57" stroke="#000" stroke-opacity="0.75" stroke-width="1.0"/>
<rect x="1783.95" y="894.61" width="22.1" height="30.44" fill="#9595b1" stroke="#000" stroke-opacity="0.75" stroke-width="1.0"/>
<rect x="1828.15" y="914.88" width="22.1" height="10.17" fill="#dfdfaa" stroke="#000" stroke-opacity="0.75" stroke-width="1.0"/>
<rect x="1872.35" y="899.77" width="22.1" height="25.28" fill="#25255a" stroke="#000" stroke-opacity="0.75" stroke-width="1.0"/>
<rect x="1894.45" y="919.89" width="22.1" height="5.16" fill="#4d4d5d" stroke="#000" stroke-opacity="0.75" stroke-width="1.0"/>
<rect x="1916.55" y="909.83" width="22.1" height="15.22" fill="#6f6f57" stroke="#000" stroke-opacity="0.75" stroke-width="1.0"/>
<rect x="1960.75" y="904.93" width="22.1" height="20.12" fill="#b9b9ab" stroke="#000" stroke-opacity="0.75" stroke-width="1.0"/>
<rect x="1551.9" y="615.45" width="442" height="309.6" fill="none" stroke="#636363" stroke-width="1.25"/>
<path d="M1547.1 925.05H1551.9M1548.9 904.41H1551.9M1990.9 904.41H1993.9M1548.9 883.77H1551.9M1990.9 883.77H1993.9M1548.9 863.13H1551.9M1990.9 863.13H1993.9M1548.9 842.49H1551.9M1990.9 842.49H1993.9M1547.1 821.85H1551.9M1989.4 821.85H1993.9M1548.9 801.21H1551.9M1990.9 801.21H1993.9M1548.9 780.57H1551.9M1990.9 780.57H1993.9M1548.9 759.93H1551.9M1990.9 759.93H1993.9M1548.9 739.29H1551.9M1990.9 739.29H1993.9M1547.1 718.65H1551.9M1989.4 718.65H1993.9M1548.9 698.01H1551.9M1990.9 698.01H1993.9M1548.9 677.37H1551.9M1990.9 677.37H1993.9M1548.9 656.73H1551.9M1990.9 656.73H1993.9M1548.9 636.09H1551.9M1990.9 636.09H1993.9M1547.1 615.45H1551.9M1574 925.05V929.85M1596.1 925.05V929.85M1618.2 925.05V929.85M1640.3 925.05V929.85M1662.4 925.05V929.85M1684.5 925.05V929.85M1706.6 925.05V929.85M1728.7 925.05V929.85M1750.8 925.05V929.85M1772.9 925.05V929.85M1795 925.05V929.85M1817.1 925.05V929.85M1839.2 925.05V929.85M1861.3 925.05V929.85M1883.4 925.05V929.85M1905.5 925.05V929.85M1927.6 925.05V929.85M1949.7 925.05V929.85M1971.8 925.05V929.85" stroke="#444" stroke-width="1.1" fill="none"/>
<g font-size="22.6" text-anchor="end">
<text x="1536.77" y="932.82">0</text>
<text x="1536.8" y="829.62">20</text>
<text x="1536.8" y="726.42">40</text>
<text x="1536.8" y="623.22">60</text>
</g>
<text transform="translate(1741.37,671.35) scale(1,1.050)" font-size="45.63">W704</text>
<g font-weight="bold" font-size="21.2" text-anchor="end" style="font-kerning:none">
<text transform="translate(1582.7,940.4) rotate(-90) scale(1,1.098)">Gly</text>
<text transform="translate(1604.8,940.4) rotate(-90) scale(1,1.098)">Ala</text>
<text transform="translate(1626.9,940.4) rotate(-90) scale(1,1.098)">Val</text>
<text transform="translate(1649,940.4) rotate(-90) scale(1,1.098)">Leu</text>
<text transform="translate(1671.1,940.4) rotate(-90) scale(1,1.098)">Ile</text>
<text transform="translate(1693.2,940.4) rotate(-90) scale(1,1.098)">Met</text>
<text transform="translate(1715.3,940.4) rotate(-90) scale(1,1.098)">Pro</text>
<text transform="translate(1737.4,940.4) rotate(-90) scale(1,1.098)">Phe</text>
<text transform="translate(1759.5,940.4) rotate(-90) scale(1,1.098)">Tyr</text>
<text transform="translate(1781.6,940.4) rotate(-90) scale(1,1.098)">Ser</text>
<text transform="translate(1803.7,940.4) rotate(-90) scale(1,1.098)">Thr</text>
<text transform="translate(1825.8,940.4) rotate(-90) scale(1,1.098)">Cys</text>
<text transform="translate(1847.9,940.4) rotate(-90) scale(1,1.098)">Asn</text>
<text transform="translate(1870,940.4) rotate(-90) scale(1,1.098)">Gln</text>
<text transform="translate(1892.1,940.4) rotate(-90) scale(1,1.098)">His</text>
<text transform="translate(1914.2,940.4) rotate(-90) scale(1,1.098)">Lys</text>
<text transform="translate(1936.3,940.4) rotate(-90) scale(1,1.098)">Arg</text>
<text transform="translate(1958.4,940.4) rotate(-90) scale(1,1.098)">Asp</text>
<text transform="translate(1980.5,940.4) rotate(-90) scale(1,1.098)">Glu</text>
</g>
<path d="M1565.3 987.1V1002.35H1712.9V987.1M1719.5 987.1V1002.35H1761.05V987.1M1766.9 987.1V1002.35H1869.2V987.1M1875.2 987.1V1002.35H1935.9V987.1M1941.95 987.1V1002.35H1991.9V987.1" stroke="#000" stroke-width="3.0" fill="none" stroke-linejoin="miter"/>
<g font-weight="bold">
<text transform="translate(1591.1,1034.3) scale(1,0.981)" font-size="17.8">Non-Polar</text>
<text transform="translate(1702.56,1034.3) scale(1,0.993)" font-size="17.57">Aromatic</text>
<text transform="translate(1799.68,1034.3) scale(1,0.962)" font-size="18.14">Polar</text>
<text transform="translate(1880.32,1034.3) scale(1,0.996)" font-size="17.53">Basic</text>
<text transform="translate(1942.66,1034.3) scale(1,0.999)" font-size="17.47">Acidic</text>
</g>
<path d="M80 331.85L1502.3 330.7M1555.1 340.4L1993 341.8M80 874.6L1995 874.6" stroke="#111" stroke-width="1.45" fill="none"/>
</svg></body></html>
